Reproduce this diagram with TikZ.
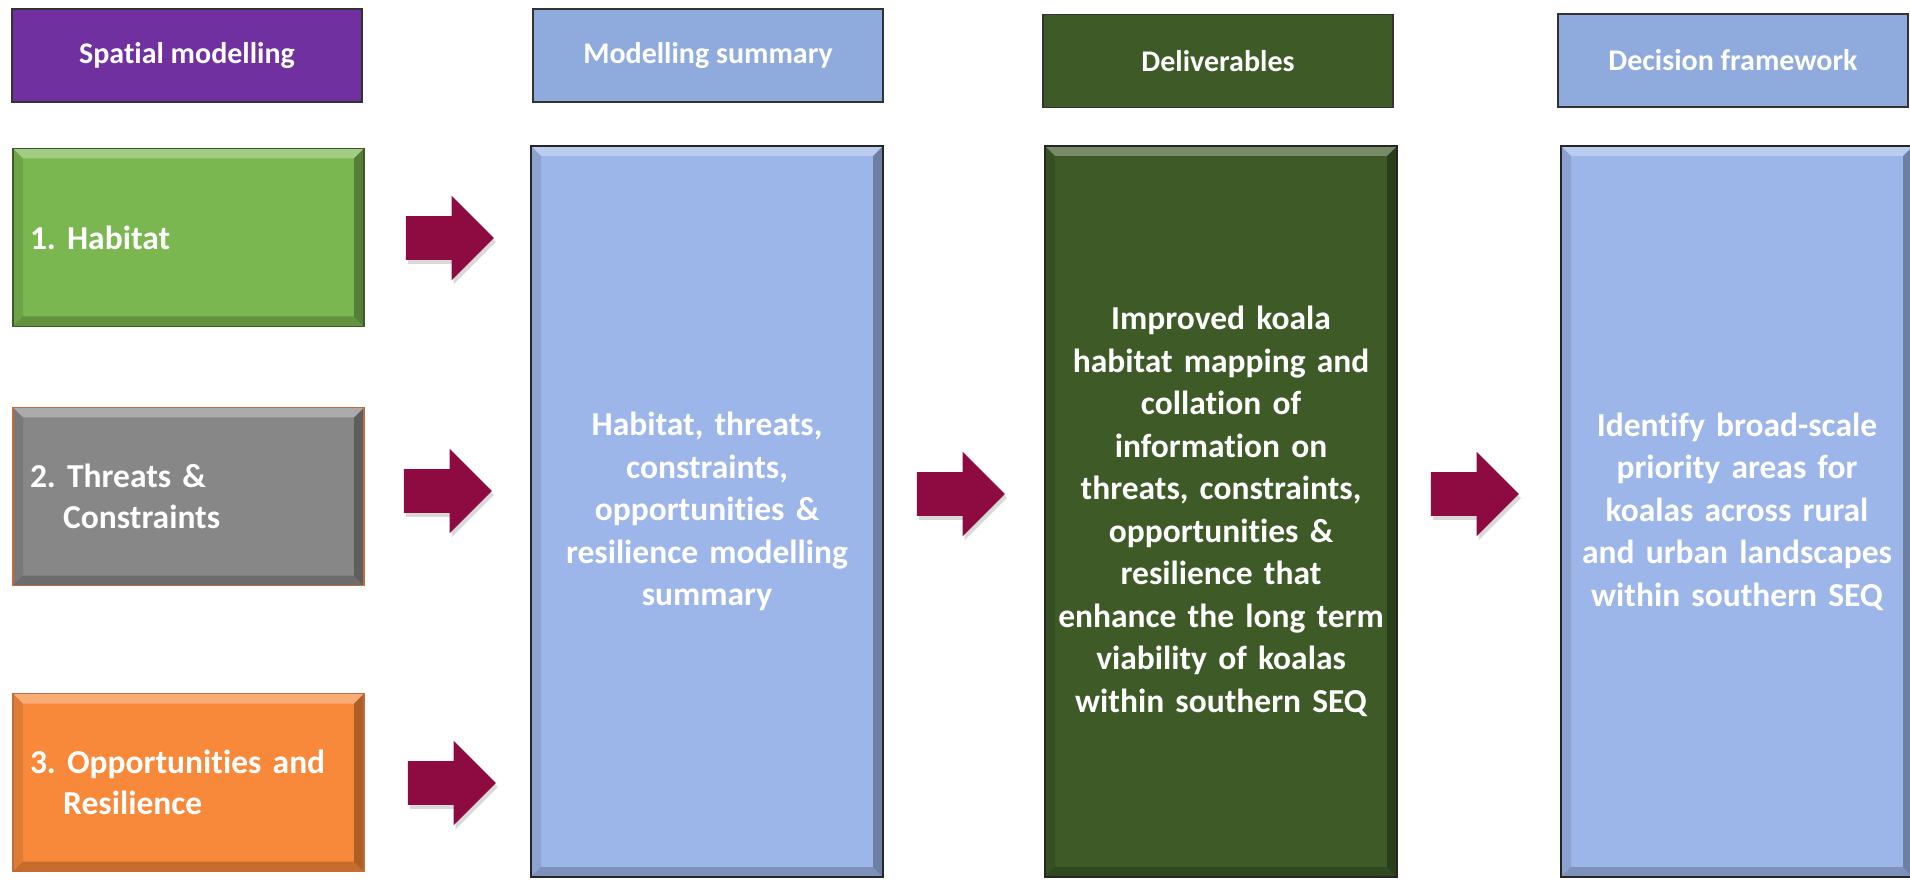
\documentclass[tikz,border=0pt]{standalone}
\usepackage{fontspec}
\setmainfont{Carlito}[Ligatures=NoCommon]
\usepackage{tikz}
\usepackage{xcolor}
\usetikzlibrary{positioning}
\usetikzlibrary{shapes.arrows}
\usetikzlibrary{shadows}
\frenchspacing

\definecolor{sppurple}{RGB}{112,48,160}
\definecolor{habgreen}{RGB}{123,183,80}
\definecolor{thrgray}{RGB}{135,135,135}
\definecolor{opporange}{RGB}{248,137,58}
\definecolor{hdrblue}{RGB}{143,170,220}
\definecolor{boxblue}{RGB}{157,182,234}
\definecolor{delgreen}{RGB}{61,90,39}
\definecolor{arrowred}{RGB}{142,11,66}
\definecolor{edgebrown}{RGB}{190,110,60}

\tikzset{bevel/.style={path picture={
	\fill[white,opacity=.3] (path picture bounding box.north west) -- (path picture bounding box.north east) -- ([xshift=-5pt,yshift=-5pt]path picture bounding box.north east) -- ([xshift=5pt,yshift=-5pt]path picture bounding box.north west) -- cycle;
	\fill[black,opacity=.3] (path picture bounding box.north east) -- (path picture bounding box.south east) -- ([xshift=-5pt,yshift=5pt]path picture bounding box.south east) -- ([xshift=-5pt,yshift=-5pt]path picture bounding box.north east) -- cycle;
	\fill[black,opacity=.2] (path picture bounding box.south west) -- ([xshift=5pt,yshift=5pt]path picture bounding box.south west) -- ([xshift=-5pt,yshift=5pt]path picture bounding box.south east) -- (path picture bounding box.south east) -- cycle;
	\fill[black,opacity=.1] (path picture bounding box.north west) -- ([xshift=5pt,yshift=-5pt]path picture bounding box.north west) -- ([xshift=5pt,yshift=5pt]path picture bounding box.south west) -- (path picture bounding box.south west) -- cycle;
}}}

\begin{document}
\begin{tikzpicture}[x=0.5pt, y=-0.5pt,
	hdnode/.style={rectangle,draw=black!80,thick,text=white,font=\fontsize{15}{18}\selectfont\bfseries,minimum width=175pt,minimum height=46.5pt,inner sep=0pt},
	lftnode/.style={rectangle,bevel,draw=black!60,thick,text=white,font=\fontsize{16.75}{20.5}\selectfont\bfseries,minimum height=89pt,text width=158.5pt,inner xsep=8.5pt,align=left},
	bignode/.style={rectangle,bevel,draw=black!85,thick,text=white,font=\fontsize{16.75}{21.25}\selectfont\bfseries,minimum height=365.5pt,text width=166pt,inner xsep=5pt,align=center},
	blkarrow/.style={single arrow,fill=arrowred,minimum height=44pt,single arrow head extend=10.25pt,inner xsep=0pt,inner ysep=10.75pt,drop shadow={shadow xshift=1pt,shadow yshift=-2pt,opacity=.3}}]
	\useasboundingbox (0,0) rectangle (1910,881);
	\node[hdnode,fill=sppurple] (hdrspatial) at (187,55.5) {Spatial modelling};
	\node[hdnode,fill=hdrblue] (hdrsummary) at (708,55.5) {Modelling summary};
	\node[hdnode,fill=delgreen] (hdrdeliv) at (1218,61) {Deliverables};
	\node[hdnode,fill=hdrblue] (hdrdecision) at (1733,60.5) {Decision framework};
	\node[lftnode,fill=habgreen,draw=delgreen] (habitat) at (188.5,237.5) {1. Habitat};
	\node[lftnode,fill=thrgray,draw=edgebrown] (threats) at (188.5,496.5) {2. Threats \&\\\hspace*{16.6pt}Constraints};
	\node[lftnode,fill=opporange,draw=edgebrown] (opps) at (188.5,782.5) {3. Opportunities and\\\hspace*{16.6pt}Resilience};
	\node[bignode,fill=boxblue] (summary) at (707,511.5) {Habitat, threats,\\constraints,\\opportunities \&\\resilience modelling\\summary};
	\node[bignode,fill=delgreen] (deliv) at (1221,511.5) {Improved koala\\habitat mapping and\\collation of\\information on\\threats, constraints,\\opportunities \&\\resilience that\\enhance the long term\\viability of koalas\\within southern SEQ};
	\node[bignode,fill=boxblue] (decision) at (1737,511.5) {Identify broad-scale\\priority areas for\\koalas across rural\\and urban landscapes\\within southern SEQ};
	\node[blkarrow] (arrhab) at (439,238) {};
	\node[blkarrow] (arrthr) at (437,491) {};
	\node[blkarrow] (arropp) at (441,783) {};
	\node[blkarrow] (arrsum) at (950,494) {};
	\node[blkarrow] (arrdel) at (1464,494) {};
\end{tikzpicture}
\end{document}
